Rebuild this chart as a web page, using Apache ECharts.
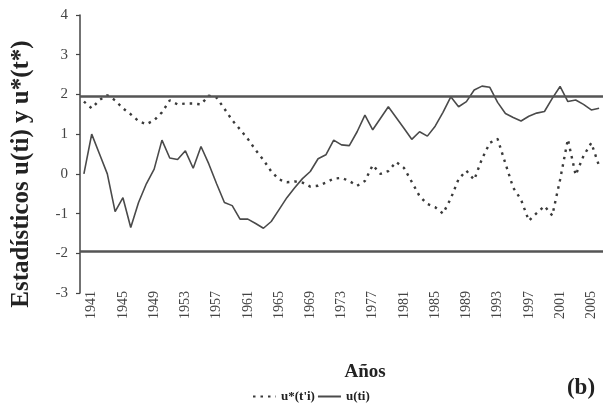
<!DOCTYPE html>
<html>
<head>
<meta charset="utf-8">
<script src="https://cdn.jsdelivr.net/npm/echarts@6/dist/echarts.min.js"></script>
<style>
html,body{margin:0;padding:0;background:#fff;}
#chart{width:603px;height:419px;}
</style>
</head>
<body>
<div id="chart"></div>
<script>
const years = ['1940','1941','1942','1943','1944','1945','1946','1947','1948','1949',
  '1950','1951','1952','1953','1954','1955','1956','1957','1958','1959',
  '1960','1961','1962','1963','1964','1965','1966','1967','1968','1969',
  '1970','1971','1972','1973','1974','1975','1976','1977','1978','1979',
  '1980','1981','1982','1983','1984','1985','1986','1987','1988','1989',
  '1990','1991','1992','1993','1994','1995','1996','1997','1998','1999',
  '2000','2001','2002','2003','2004','2005','2006'];

const uStar = [1.82,1.65,1.86,1.98,1.85,1.65,1.50,1.33,1.25,1.35,
  1.55,1.85,1.75,1.77,1.77,1.75,1.97,1.92,1.64,1.35,
  1.12,0.88,0.60,0.35,0.06,-0.14,-0.21,-0.19,-0.22,-0.32,
  -0.30,-0.22,-0.12,-0.10,-0.18,-0.30,-0.18,0.22,0.00,0.07,
  0.30,0.15,-0.20,-0.56,-0.76,-0.84,-1.00,-0.62,-0.13,0.08,
  -0.15,0.38,0.78,0.88,0.26,-0.35,-0.65,-1.18,-0.99,-0.81,
  -1.05,-0.15,0.87,-0.03,0.45,0.78,0.20];

const u = [0.00,1.00,0.50,0.00,-0.95,-0.60,-1.35,-0.72,-0.25,0.12,
  0.85,0.40,0.36,0.58,0.14,0.69,0.25,-0.25,-0.72,-0.80,
  -1.14,-1.14,-1.25,-1.37,-1.20,-0.90,-0.60,-0.35,-0.12,0.06,
  0.38,0.48,0.85,0.73,0.71,1.06,1.48,1.11,1.40,1.69,
  1.42,1.15,0.87,1.06,0.95,1.20,1.55,1.94,1.69,1.82,
  2.11,2.21,2.18,1.80,1.52,1.42,1.33,1.45,1.53,1.57,
  1.90,2.20,1.82,1.86,1.75,1.61,1.65];

const xTickLabels = ['1941','1945','1949','1953','1957','1961','1965','1969','1973',
  '1977','1981','1985','1989','1993','1997','2001','2005'];

const criticalLevels = [1.96, -1.96];

const serif = '"Liberation Serif", "DejaVu Serif", serif';

const chart = echarts.init(document.getElementById('chart'));
chart.setOption({
  animation: false,
  backgroundColor: '#fff',
  grid: {left: 80, top: 15, width: 527, height: 278},
  legend: {
    left: 247, top: 385,
    itemWidth: 23, itemHeight: 12, itemGap: 2,
    itemStyle: {opacity: 0},
    textStyle: {fontFamily: serif, fontWeight: 'bold', fontSize: 13, color: '#222'},
    data: ["u*(t'i)", 'u(ti)']
  },
  xAxis: {
    type: 'category',
    data: years,
    boundaryGap: true,
    axisLine: {show: false},
    axisTick: {show: false},
    splitLine: {show: false},
    axisLabel: {
      interval: (i, v) => xTickLabels.includes(v),
      rotate: 90,
      margin: -2,
      fontFamily: serif,
      fontSize: 14,
      color: '#444'
    }
  },
  yAxis: {
    type: 'value',
    min: -3, max: 4, interval: 1,
    axisLine: {show: true, lineStyle: {color: '#444', width: 1.5}},
    axisTick: {show: true, length: 4, lineStyle: {color: '#444', width: 1.2}},
    splitLine: {show: false},
    axisLabel: {fontFamily: serif, fontSize: 15, color: '#444', margin: 12}
  },
  series: [
    {
      name: "u*(t'i)",
      type: 'line',
      data: uStar,
      symbol: 'none',
      lineStyle: {color: '#3a3a3a', width: 2.4, type: [2.5, 5]},
      itemStyle: {color: '#3a3a3a'}
    },
    {
      name: 'u(ti)',
      type: 'line',
      data: u,
      symbol: 'none',
      lineStyle: {color: '#4a4a4a', width: 1.6},
      itemStyle: {color: '#4a4a4a'},
      markLine: {
        silent: true,
        symbol: 'none',
        label: {show: false},
        lineStyle: {color: '#555', width: 2.6, type: 'solid'},
        data: criticalLevels.map(v => ({yAxis: v}))
      }
    }
  ],
  graphic: [
    {
      type: 'text', x: 22, y: 174, rotation: Math.PI / 2,
      style: {text: 'Estadísticos u(ti) y u*(t*)', textAlign: 'center', textVerticalAlign: 'middle',
        font: 'bold 25px ' + serif, fill: '#222'}
    },
    {
      type: 'text', x: 365, y: 372,
      style: {text: 'Años', textAlign: 'center', textVerticalAlign: 'middle',
        font: 'bold 19px ' + serif, fill: '#222'}
    },
    {
      type: 'text', x: 581, y: 388,
      style: {text: '(b)', textAlign: 'center', textVerticalAlign: 'middle',
        font: 'bold 23px ' + serif, fill: '#222'}
    }
  ]
});
</script>
</body>
</html>
